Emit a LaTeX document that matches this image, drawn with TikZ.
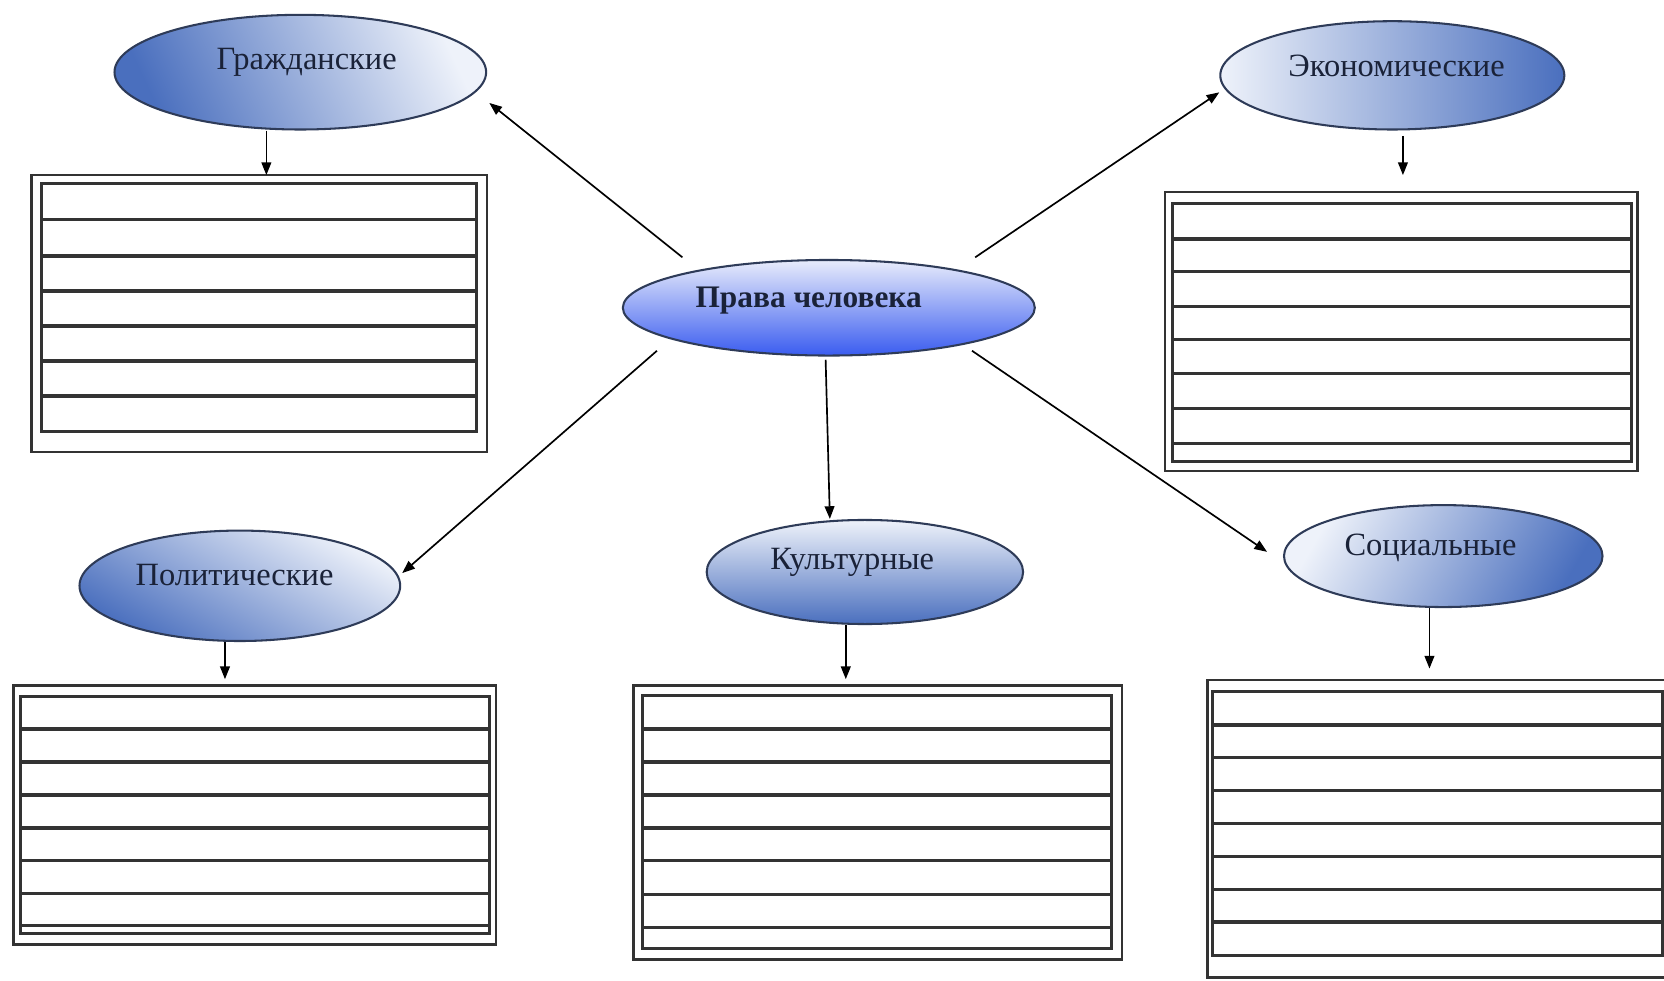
\documentclass[tikz,border=0pt]{standalone}
\usepackage{fontspec}
\setmainfont{Liberation Serif}
\usetikzlibrary{shapes.geometric,arrows.meta,calc}
\definecolor{ellline}{HTML}{2E3B58}
\definecolor{darkb}{HTML}{4A6FBE}
\definecolor{lightb}{HTML}{EEF2FA}
\definecolor{ctop}{HTML}{E8ECFB}
\definecolor{cbot}{HTML}{3A5CF0}
\definecolor{txtc}{HTML}{1A2238}
\definecolor{boxc}{HTML}{333333}
\tikzset{
  ell/.style={ellipse, draw=ellline, line width=0.55pt, inner sep=0pt},
  lbl/.style={text=txtc, inner sep=0pt, font=\fontsize{8.7}{10}\selectfont},
  arr/.style={-{Triangle[length=3.4pt,width=2.6pt]}, line width=0.45pt, black},
  obox/.style={rectangle, draw=boxc, line width=0.65pt, inner sep=0pt},
  ibox/.style={draw=boxc, line width=0.8pt},
  rl/.style={draw=boxc, line width=0.95pt},
}
\begin{document}
\begin{tikzpicture}[x=0.01cm,y=-0.01cm]
\useasboundingbox (0,0) rectangle (1568,924);
\fill[white] (0,0) rectangle (1568,924);

% ---- ellipses
\node[ell, minimum width=3.50cm, minimum height=1.08cm,
      top color=darkb, bottom color=lightb, shading angle=115] (g) at (283,68) {};
\node[lbl] (gt) at (289,59) {Гражданские};

\node[ell, minimum width=3.24cm, minimum height=1.02cm,
      top color=darkb, bottom color=lightb, shading angle=270] (e) at (1312,71) {};
\node[lbl] (et) at (1316,62) {Экономические};

\node[ell, minimum width=3.88cm, minimum height=0.90cm,
      top color=ctop, bottom color=cbot] (c) at (781,290) {};
\node[lbl, font=\fontsize{8.4}{10}\selectfont\bfseries] (ct) at (762,283) {Права человека};

\node[ell, minimum width=3.02cm, minimum height=1.04cm,
      top color=darkb, bottom color=lightb, shading angle=150] (p) at (226,552) {};
\node[lbl] (pt) at (221,542) {Политические};

\node[ell, minimum width=2.98cm, minimum height=0.98cm,
      top color=darkb, bottom color=lightb, shading angle=180] (k) at (815,539) {};
\node[lbl] (kt) at (803,530) {Культурные};

\node[ell, minimum width=3.00cm, minimum height=0.96cm,
      top color=darkb, bottom color=lightb, shading angle=240] (s) at (1360,524) {};
\node[lbl] (st) at (1348,516) {Социальные};

% ---- boxes
% box 1 (Гражданские)
\node[obox, minimum width=4.29cm, minimum height=2.61cm] (b1) at (244.5,295.5) {};
\draw[ibox] (39,173) rectangle (449,407);
\foreach \yy in {207,241,274,307,340,373} \draw[rl] (39,\yy) -- (449,\yy);
\coordinate (b1in) at (251,165);

% box 2 (Экономические)
\node[obox, minimum width=4.45cm, minimum height=2.63cm] (b2) at (1320.5,312.5) {};
\draw[ibox] (1105,192) rectangle (1537,435);
\foreach \yy in {225,256,289,320,352,385,418} \draw[rl] (1105,\yy) -- (1537,\yy);
\coordinate (b2in) at (1322,165);

% box 3 (Политические)
\node[obox, minimum width=4.54cm, minimum height=2.44cm] (b3) at (240,768) {};
\draw[ibox] (19,656) rectangle (461,880);
\foreach \yy in {687,718,749,780,811,842,872} \draw[rl] (19,\yy) -- (461,\yy);
\coordinate (b3in) at (212,640);

% box 4 (Культурные)
\node[obox, minimum width=4.60cm, minimum height=2.58cm] (b4) at (827,775) {};
\draw[ibox] (605,655) rectangle (1047,894);
\foreach \yy in {687,718,749,780,811,843,874} \draw[rl] (605,\yy) -- (1047,\yy);
\coordinate (b4in) at (797,640);

% box 5 (Социальные)
\node[obox, minimum width=4.50cm, minimum height=2.80cm] (b5) at (1363,781) {};
\draw[ibox] (1143,652) rectangle (1567,900);
\foreach \yy in {683,714,745,776,807,838,869} \draw[rl] (1143,\yy) -- (1567,\yy);
\coordinate (b5in) at (1347,630);

% ---- arrows from centre
\draw[arr] ([shift={(0,-15)}]c.north west) -- ([shift={(2,29)}]g.east);
\draw[arr] ([shift={(0,-15)}]c.north east) -- ([shift={(0,16)}]e.west);
\draw[arr] ([shift={(-24,8)}]c.south west) -- ([shift={(1,-12)}]p.east);
\draw[arr] ([shift={(-3,3)}]c.south) -- ([shift={(-33,0)}]k.north);
\draw[arr] ([shift={(-3,8)}]c.south east) -- ([shift={(-15,-4)}]s.west);

% ---- arrows to boxes
\draw[arr] (g.south -| b1in) -- (b1in);
\draw[arr] ([yshift=-0.05cm]e.south -| b2in) -- (b2in);
\draw[arr] (p.south -| b3in) -- (b3in);
\draw[arr] (k.south -| b4in) -- (b4in);
\draw[arr] (s.south -| b5in) -- (b5in);
\end{tikzpicture}
\end{document}
